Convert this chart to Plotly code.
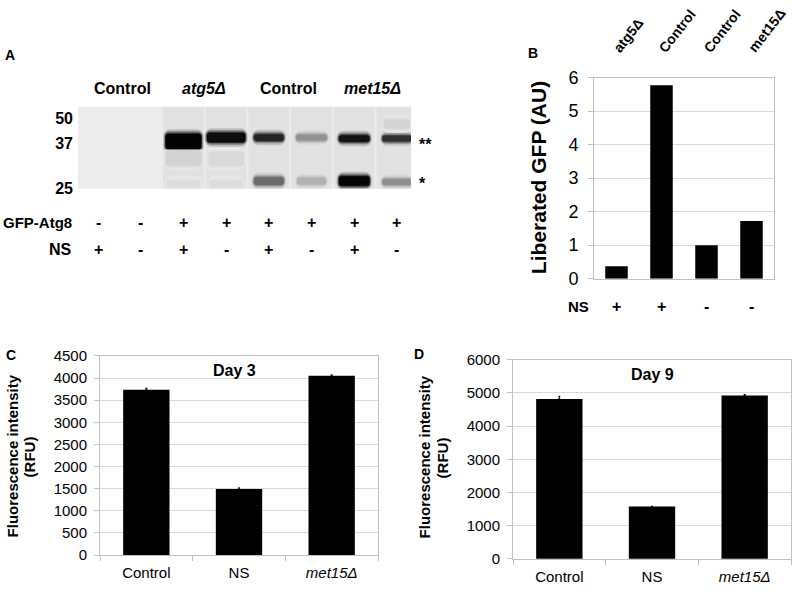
import plotly.graph_objects as go

W, H = 793, 594
FONT = "Liberation Sans, Arial, sans-serif"

# ---------------- data ----------------
# Panel A (western blot)
lanes = [1, 2, 3, 4, 5, 6, 7, 8]
gfp_atg8_signs = ["-", "-", "+", "+", "+", "+", "+", "+"]
ns_signs_a = ["+", "-", "+", "-", "+", "-", "+", "-"]
strain_headers = ["Control", "<i>atg5Δ</i>", "Control", "<i>met15Δ</i>"]
mw_labels = ["50", "37", "25"]
mw_positions = [12, 38, 85]          # migration (blot units from top)

# bands: lane, centre (migration), thickness, width (lane units), darkness 0..1
band_lane = [3, 4, 5, 6, 7, 8, 5, 6, 7, 8, 3, 4, 8, 3, 4]
band_center = [36, 32, 32, 32, 33, 33, 77, 77, 77, 78, 53, 54, 18, 80, 80]
band_height = [16, 10, 7, 6, 7, 6, 8, 7, 10, 6, 16, 14, 9, 7, 7]
band_width = [0.84, 0.90, 0.70, 0.72, 0.72, 0.68, 0.70, 0.68, 0.72, 0.68, 0.82, 0.82, 0.60, 0.78, 0.78]
band_dark = [0.99, 0.95, 0.85, 0.38, 0.92, 0.80, 0.55, 0.25, 0.98, 0.40, 0.11, 0.08, 0.10, 0.06, 0.06]
band_marks = ["**", "*"]

# Panel B
b_labels = ["atg5Δ", "Control", "Control", "met15Δ"]
b_values = [0.37, 5.77, 1.0, 1.72]
b_ns = ["+", "+", "-", "-"]

# Panel C / D
cd_categories = ["Control", "NS", "<i>met15Δ</i>"]
c_values = [3738, 1492, 4052]
c_errors = [35, 25, 20]
d_values = [4820, 1582, 4924]
d_errors = [80, 0, 30]

# ---------------- helpers ----------------
def px(x):
    return x / W

def py(y):
    return 1 - y / H

BG = 236

def gray(d):
    g = int(round(BG * (1 - d)))
    return f"rgb({g},{g},{g})"

fig = go.Figure()

# ---------------- Panel A: blot ----------------
smear_lanes = [l for l, s in zip(lanes, gfp_atg8_signs) if s == "+"]
fig.add_trace(go.Bar(x=smear_lanes, y=[85] * len(smear_lanes), base=[0] * len(smear_lanes),
                     width=0.95, marker=dict(color="rgb(226,226,226)", line_width=0),
                     xaxis="x", yaxis="y", hoverinfo="skip"))
# soft edges: outer, middle, core
for grow, fade, radius in [(9, 0.22, 7), (5, 0.5, 5), (2, 0.78, 4), (0, 1.0, 3)]:
    fig.add_trace(go.Bar(x=band_lane, y=[h + grow for h in band_height],
                         base=[c - (h + grow) / 2 for c, h in zip(band_center, band_height)],
                         width=[w + grow * 0.012 for w in band_width],
                         marker=dict(color=[gray(d * fade) for d in band_dark], line_width=0,
                                     cornerradius=radius),
                         xaxis="x", yaxis="y", hoverinfo="skip"))

# ---------------- Panel B ----------------
fig.add_trace(go.Bar(x=[0, 1, 2, 3], y=b_values, width=0.5, marker=dict(color="black", line_width=0),
                     xaxis="x2", yaxis="y2"))

# ---------------- Panel C ----------------
fig.add_trace(go.Bar(x=cd_categories, y=c_values, width=0.5, marker=dict(color="black", line_width=0),
                     error_y=dict(type="data", array=c_errors, symmetric=False, arrayminus=[0, 0, 0],
                                  color="black", thickness=1, width=1),
                     xaxis="x3", yaxis="y3"))

# ---------------- Panel D ----------------
fig.add_trace(go.Bar(x=cd_categories, y=d_values, width=0.5, marker=dict(color="black", line_width=0),
                     error_y=dict(type="data", array=d_errors, symmetric=False, arrayminus=[0, 0, 0],
                                  color="black", thickness=1, width=1),
                     xaxis="x4", yaxis="y4"))

LINE = "#bfbfbf"
GRID = "#d9d9d9"

layout = dict(
    width=W, height=H, margin=dict(l=0, r=0, t=0, b=0),
    paper_bgcolor="white", plot_bgcolor="white",
    showlegend=False, barmode="overlay",
    font=dict(family=FONT, color="black"),
    # blot
    xaxis=dict(domain=[px(78), px(411)], range=[0.53, 8.33], visible=False, fixedrange=True),
    yaxis=dict(domain=[py(185), py(100)], range=[85, 0], showgrid=False, zeroline=False,
               showline=False, tickvals=mw_positions, ticktext=mw_labels, ticks="",
               tickfont=dict(size=16, weight="bold"), ticklabelstandoff=4, fixedrange=True),
    # B
    xaxis2=dict(domain=[px(594), px(774)], range=[-0.5, 3.5], side="top", anchor="y2",
                tickvals=[0, 1, 2, 3], showticklabels=False, showline=True, mirror=True,
                linecolor=LINE, ticks="", showgrid=False, zeroline=False),
    yaxis2=dict(domain=[py(278), py(70)], range=[0, 6], dtick=1, anchor="x2",
                showgrid=True, gridcolor=GRID, showline=True, mirror=True, linecolor=LINE,
                ticks="outside", ticklen=5, tickcolor=LINE, tickfont=dict(size=18),
                zeroline=False, ticklabelstandoff=6),
    # C
    xaxis3=dict(domain=[px(100), px(378)], anchor="y3", type="category",
                tickson="boundaries", ticks="outside", ticklen=5, tickcolor=LINE,
                showline=True, mirror=True, linecolor=LINE, tickfont=dict(size=15),
                showgrid=False, ticklabelstandoff=4),
    yaxis3=dict(domain=[py(564), py(358)], range=[0, 4500], dtick=500, anchor="x3",
                showgrid=True, gridcolor=GRID, showline=True, mirror=True, linecolor=LINE,
                ticks="outside", ticklen=5, tickcolor=LINE, tickfont=dict(size=15),
                zeroline=False, ticklabelstandoff=4),
    # D
    xaxis4=dict(domain=[px(513), px(791)], anchor="y4", type="category",
                tickson="boundaries", ticks="outside", ticklen=5, tickcolor=LINE,
                showline=True, mirror=True, linecolor=LINE, tickfont=dict(size=15),
                showgrid=False, ticklabelstandoff=4),
    yaxis4=dict(domain=[py(568), py(362)], range=[0, 6000], dtick=1000, anchor="x4",
                showgrid=True, gridcolor=GRID, showline=True, mirror=True, linecolor=LINE,
                ticks="outside", ticklen=5, tickcolor=LINE, tickfont=dict(size=15),
                zeroline=False, ticklabelstandoff=4),
)
fig.update_layout(**layout)

# blot background
fig.add_shape(type="rect", xref="x domain", yref="y domain", x0=0, x1=1, y0=0, y1=1,
              fillcolor=f"rgb({BG},{BG},{BG})", line_width=0, layer="below")

ann = []

def text(x, y, s, size, bold=True, xanchor="center", yanchor="middle", xref="paper", angle=0):
    ann.append(dict(x=x, y=y, xref=xref, yref="paper", text=s, showarrow=False,
                    xanchor=xanchor, yanchor=yanchor, textangle=angle,
                    font=dict(size=size, family=FONT, color="black",
                              weight="bold" if bold else "normal")))

# panel letters
text(px(3), py(47), "A", 14, xanchor="left")
text(px(526), py(45), "B", 14, xanchor="left")
text(px(4), py(357), "C", 14, xanchor="left")
text(px(412), py(356), "D", 14, xanchor="left")

# Panel A headers
for xpos, s in zip([122, 204, 288, 372], strain_headers):
    text(px(xpos), py(81), s, 16)
# Panel A rows
text(px(74), py(220), "GFP-Atg8", 15, xanchor="right")
text(px(74), py(248), "NS", 16, xanchor="right")
for l, s in zip(lanes, gfp_atg8_signs):
    text(l, py(220), s, 16, xref="x")
for l, s in zip(lanes, ns_signs_a):
    text(l, py(248), s, 16, xref="x")
# band markers
text(px(417), py(139), band_marks[0], 16, xanchor="left")
text(px(417), py(180), band_marks[1], 16, xanchor="left")

# Panel B texts
for i, s in enumerate(b_labels):
    ann.append(dict(x=i - 0.2, y=py(50), xref="x2", yref="paper", text=s, showarrow=False,
                    xanchor="left", yanchor="bottom", textangle=-52,
                    font=dict(size=14, family=FONT, color="black", weight="bold")))
text(px(538), py(174), "Liberated GFP (AU)", 21, angle=-90)
text(px(591), py(307), "NS", 15, xanchor="right")
for i, s in enumerate(b_ns):
    ann.append(dict(x=i, y=py(307), xref="x2", yref="paper", text=s, showarrow=False,
                    font=dict(size=16, family=FONT, color="black", weight="bold")))

# Panel C texts
text(px(235), py(373), "Day 3", 16)
text(px(12), py(462), "Fluorescence intensity", 15, angle=-90)
text(px(29), py(462), "(RFU)", 15, angle=-90)

# Panel D texts
text(px(652), py(377), "Day 9", 16)
text(px(424), py(463), "Fluorescence intensity", 15, angle=-90)
text(px(442), py(463), "(RFU)", 15, angle=-90)

fig.update_layout(annotations=ann)
fig.write_html(
    "out.html", config={"displayModeBar": False},
    post_script=("document.body.style.margin='0px';"
                 "document.body.style.overflow='hidden';"
                 "document.documentElement.style.overflow='hidden';"))
